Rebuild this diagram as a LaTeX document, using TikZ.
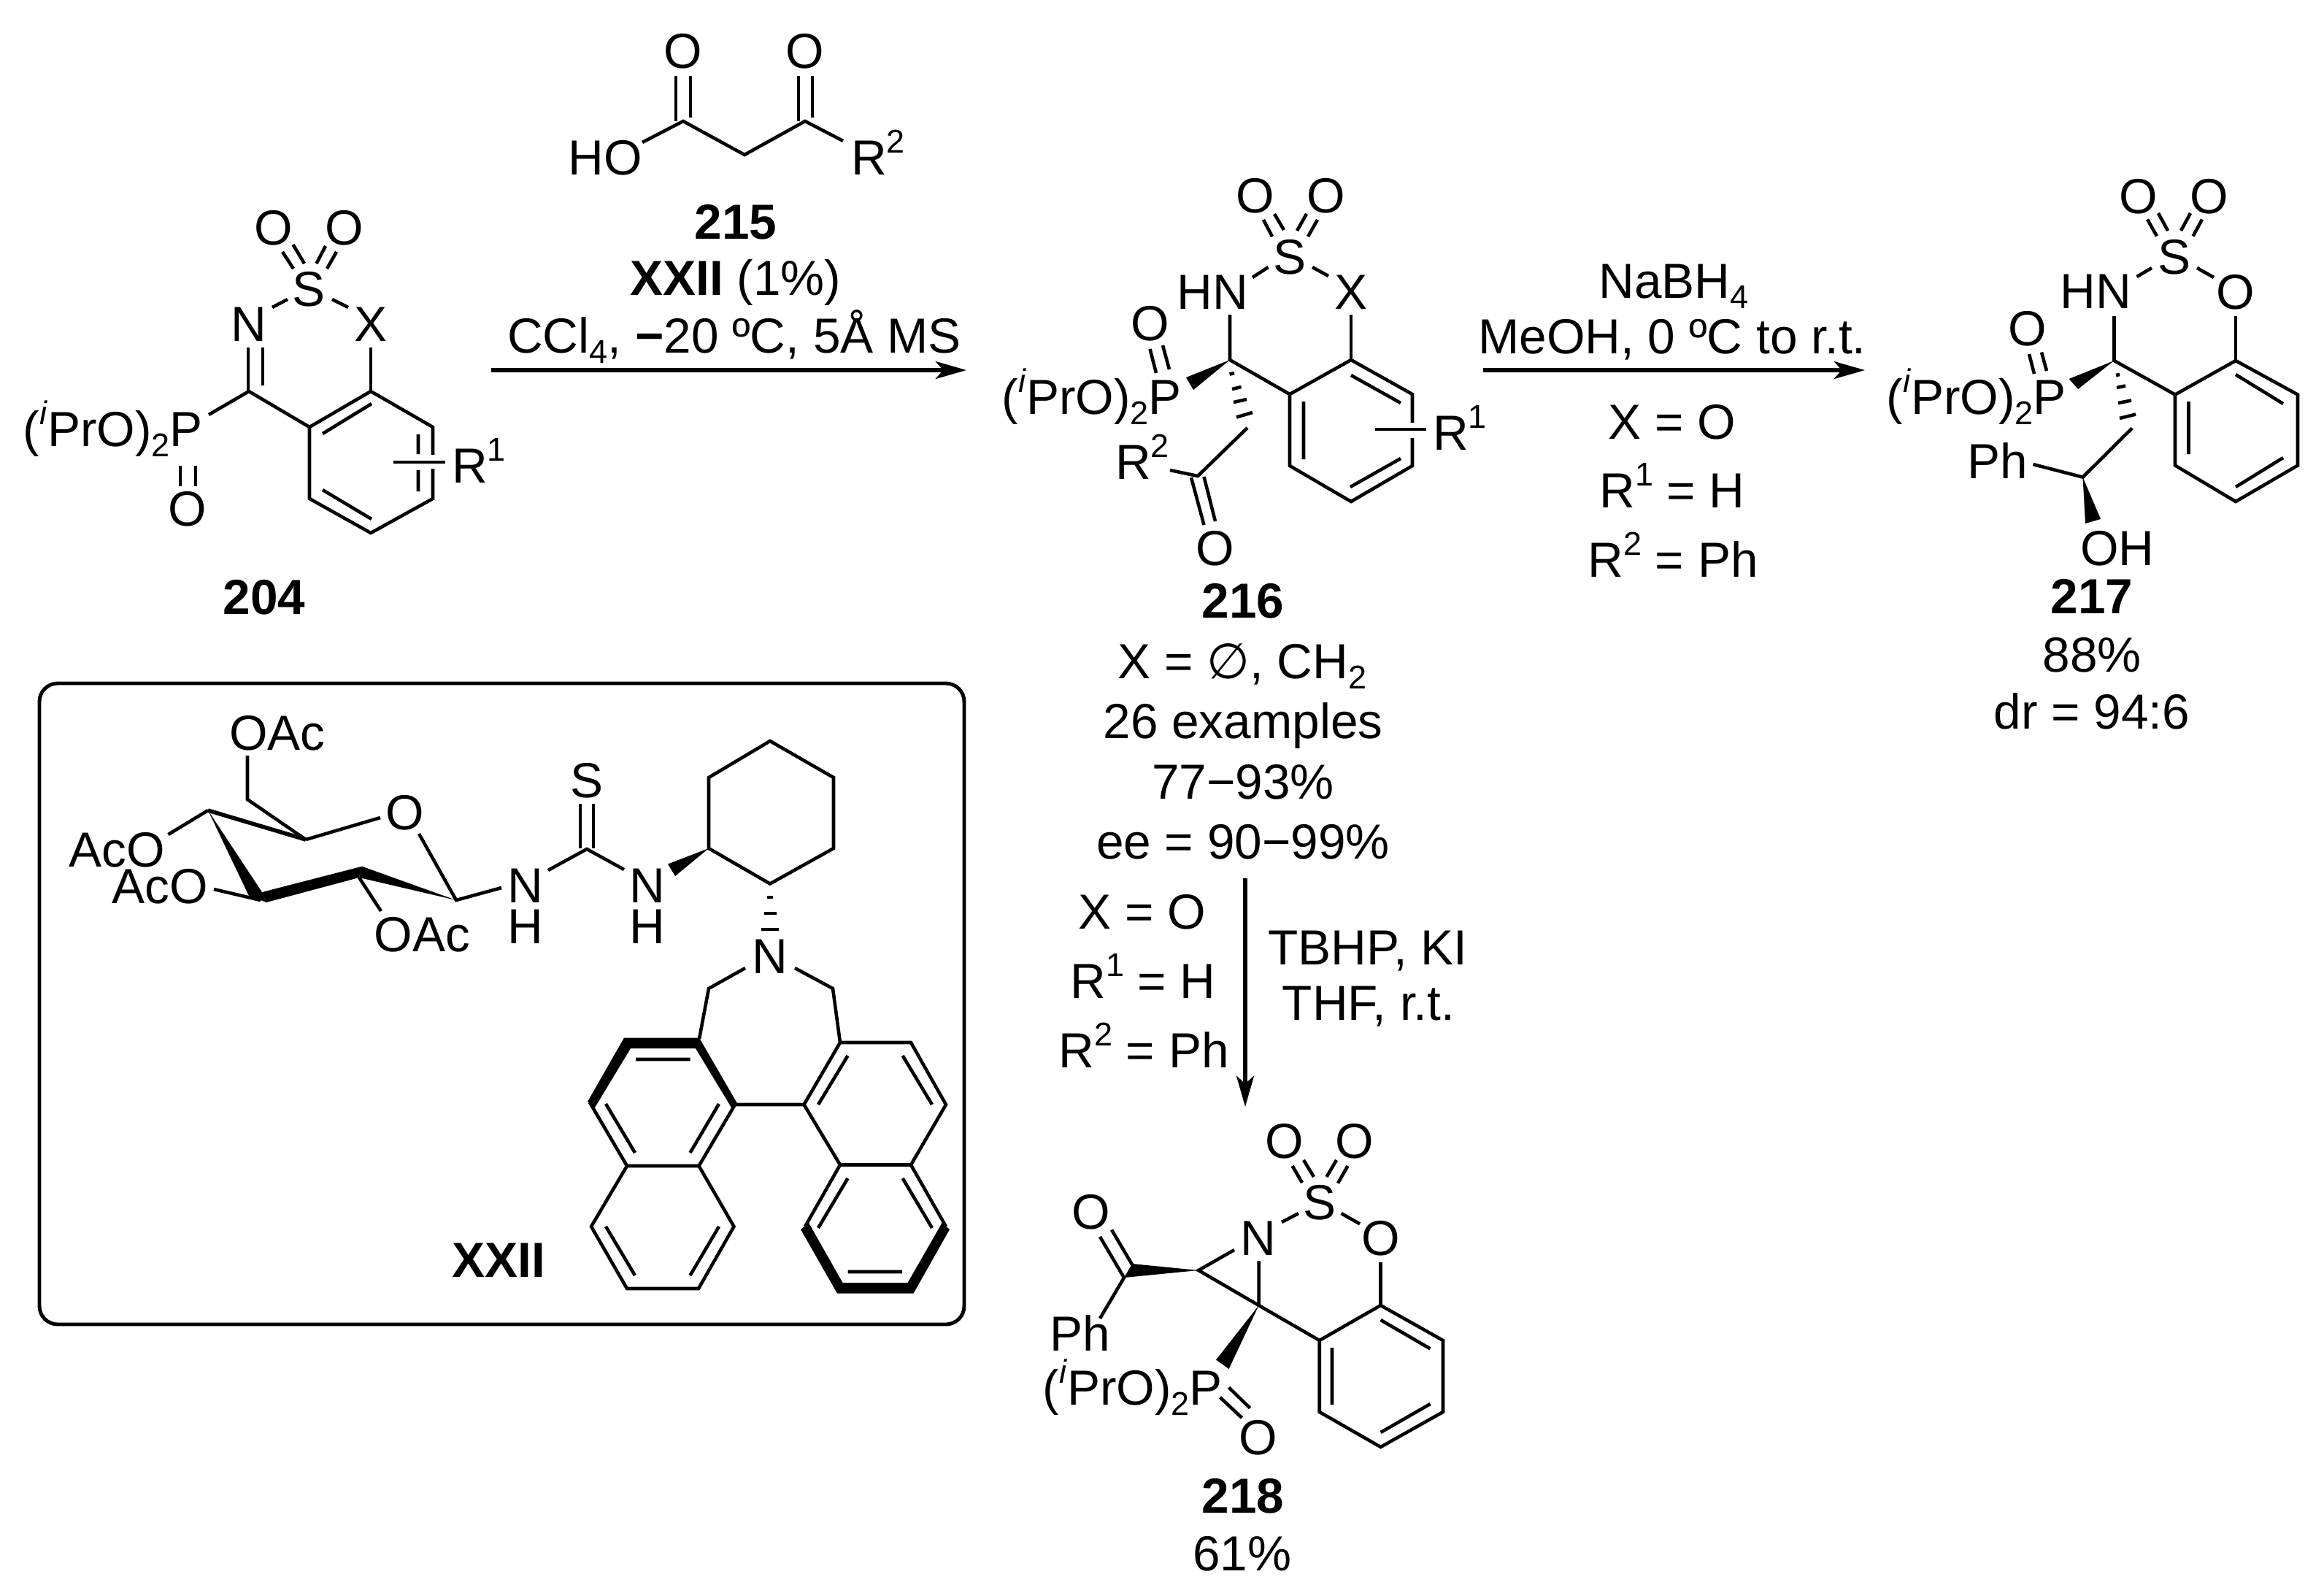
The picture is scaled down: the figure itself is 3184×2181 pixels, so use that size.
\documentclass[tikz,border=0pt]{standalone}
\usepackage{fontspec}
\setmainfont{Liberation Sans}
\newfontfamily\symfont{DejaVu Sans}
\usetikzlibrary{arrows.meta}
\newcommand\chemsup[1]{\raisebox{8.5pt}{\fontsize{12.8pt}{12.8pt}\selectfont #1}}
\newcommand\chemsub[1]{\raisebox{-4pt}{\fontsize{12.8pt}{12.8pt}\selectfont #1}}
\newcommand\iprop{(\chemsup{\textit{i}}PrO)\chemsub{2}P}
\tikzset{
  lbl/.style={inner sep=0pt,outer sep=0pt,font=\fontsize{19.2pt}{22pt}\selectfont},
  blbl/.style={inner sep=0pt,outer sep=0pt,font=\fontsize{19.2pt}{22pt}\selectfont\bfseries},
  bond/.style={line width=1.3pt},
  wedge/.style={fill=black,draw=none},
  rxn/.style={line width=1.5pt,-{Stealth[length=12pt,width=6.8pt,inset=3pt]}},
  panel/.style={line width=1.4pt,rounded corners=2.5mm}
}
\begin{document}
\begin{tikzpicture}[x=0.01cm,y=-0.01cm]
\useasboundingbox (0,0) rectangle (3184,2181);
\fill[white] (0,0) rectangle (3184,2181);

% ---------- reaction arrows
\coordinate (a1s) at (673,507); \coordinate (a1e) at (1324,507);
\coordinate (a2s) at (2032,507); \coordinate (a2e) at (2555,507);
\coordinate (a3s) at (1706,1203); \coordinate (a3e) at (1706,1516);
\draw[rxn] (a1s) -- (a1e);
\draw[rxn] (a2s) -- (a2e);
\draw[rxn] (a3s) -- (a3e);

% ---------- 215
\node[lbl] (a215O1) at (936,70) {O};
\node[lbl] (a215O2) at (1103,70) {O};
\node[lbl,anchor=base] (a215HO) at (829,239) {HO};
\node[lbl,anchor=base west] (a215R) at (1166,239) {R\chemsup{2}};
\draw[bond] (880,195) -- (936,166) -- (1020,212) -- (1103,166) -- (1155,193);
\draw[bond] (926,104) -- (926,166) (946,104) -- (946,161);
\draw[bond] (1094,104) -- (1094,166) (1113,104) -- (1113,161);
\node[blbl,anchor=base] (t215) at (1008,327) {215};
\node[lbl,anchor=base] (tcat) at (1008,404.5) {\textbf{XXII} (1\%)};
\node[lbl,anchor=base] (tcond) at (1006,483) {CCl\chemsub{4}, \textbf{−}20 ºC, 5Å MS};

% ---------- 204
\node[lbl] (a204O1) at (375,312) {O};
\node[lbl] (a204O2) at (472,312) {O};
\node[lbl] (a204S) at (423,396) {S};
\node[lbl] (a204N) at (341,444) {N};
\node[lbl] (a204X) at (508,444) {X};
\node[lbl] (a204O3) at (257,697) {O};
\node[lbl,anchor=base east] (a204P) at (278,611) {\iprop};
\node[lbl,anchor=base west] (a204R) at (619,661) {R\chemsup{1}};
\draw[bond] (401.5,335) -- (417,361) (387,345) -- (402,368);
\draw[bond] (446,337) -- (433.5,361) (461,345) -- (448,368);
\draw[bond] (373,421) -- (394,410) (455,410) -- (477,421);
\draw[bond] (340,476) -- (340,536) (360,476) -- (360,528);
\draw[bond] (286,568) -- (341,536) -- (424,585);
\draw[bond] (508,476) -- (508,536);
\draw[bond] (593,623) -- (593,585) -- (508,536) -- (424,585) -- (424,683) -- (508,730) -- (593,683) -- (593,642);
\draw[bond] (442,594) -- (509,553) (573,595) -- (573,622) (573,644) -- (573,673) (442,671) -- (509,711);
\draw[bond] (539,633) -- (610,633);
\draw[bond] (247,638) -- (247,666) (268,638) -- (268,666);
\node[blbl,anchor=base] (t204) at (362,841) {204};

% ---------- 216
\node[lbl] (a216O1) at (1720,268) {O};
\node[lbl] (a216O2) at (1817,268) {O};
\node[lbl] (a216S) at (1767,352) {S};
\node[lbl,anchor=base] (a216N) at (1661,423) {HN};
\node[lbl,anchor=base] (a216X) at (1851,423) {X};
\node[lbl] (a216O3) at (1575.5,443) {O};
\node[lbl] (a216O4) at (1665,751) {O};
\node[lbl,anchor=base east] (a216P) at (1619,567) {\iprop};
\node[lbl,anchor=base west] (a216R1) at (1963,616) {R\chemsup{1}};
\node[lbl,anchor=base west] (a216R2) at (1528,656) {R\chemsup{2}};
\draw[bond] (1746,293) -- (1759,315) (1731,301) -- (1743,324) (1790,293) -- (1777,316) (1805,301) -- (1792,324);
\draw[bond] (1716,380) -- (1737.5,366) (1798,366) -- (1820,378);
\draw[bond] (1685,431) -- (1685,493) -- (1767,540);
\draw[bond] (1851,431) -- (1851,493);
\draw[bond] (1935,579) -- (1935,540) -- (1851,493) -- (1767,540) -- (1767,638) -- (1851,687) -- (1935,638) -- (1935,600);
\draw[bond] (1851,514) -- (1919,552) (1786,550) -- (1786,629) (1919,628) -- (1850,667);
\draw[bond] (1884,588) -- (1954,588);
\fill[wedge] (1685,493) -- (1625,517) -- (1635,534) -- cycle;
\draw[bond] (1684.6,512.6) -- (1691,511) (1688,533) -- (1700.5,530) (1690,551) -- (1708,547) (1694,571.5) -- (1716,565);
\draw[bond] (1709,586) -- (1641,652) -- (1603,644);
\draw[bond] (1632,654) -- (1649.5,719) (1649.5,653) -- (1665,714);
\draw[bond] (1575.5,478) -- (1584,511) (1593,473) -- (1602,506);
\node[blbl,anchor=base] (t216) at (1703,846) {216};
\node[lbl,anchor=base] (t216a) at (1702,929) {X = {\symfont ∅}, CH\chemsub{2}};
\node[lbl,anchor=base] (t216b) at (1703,1011.5) {26 examples};
\node[lbl,anchor=base] (t216c) at (1703,1094) {77−93\%};
\node[lbl,anchor=base] (t216d) at (1703,1176) {ee = 90−99\%};

% ---------- conditions to 218
\node[lbl,anchor=base] (c1) at (1565,1272) {X = O};
\node[lbl,anchor=base] (c2) at (1566,1367) {R\chemsup{1} = H};
\node[lbl,anchor=base] (c3) at (1567,1462) {R\chemsup{2} = Ph};
\node[lbl,anchor=base] (c4) at (1874,1321) {TBHP, KI};
\node[lbl,anchor=base] (c5) at (1875,1397) {THF, r.t.};

% ---------- conditions to 217
\node[lbl,anchor=base] (d1) at (2293,408) {NaBH\chemsub{4}};
\node[lbl,anchor=base] (d2) at (2291,484) {MeOH, 0 ºC to r.t.};
\node[lbl,anchor=base] (d3) at (2291,601) {X = O};
\node[lbl,anchor=base] (d4) at (2291,695) {R\chemsup{1} = H};
\node[lbl,anchor=base] (d5) at (2292,790) {R\chemsup{2} = Ph};

% ---------- 217
\node[lbl] (a217O1) at (2930,269) {O};
\node[lbl] (a217O2) at (3027,269) {O};
\node[lbl] (a217S) at (2979,352) {S};
\node[lbl,anchor=base] (a217N) at (2871,422) {HN};
\node[lbl] (a217O3) at (3063,400) {O};
\node[lbl] (a217O4) at (2778,450) {O};
\node[lbl,anchor=base east] (a217P) at (2831,567) {\iprop};
\node[lbl,anchor=base] (a217Ph) at (2736.5,655) {Ph};
\node[lbl,anchor=base] (a217OH) at (2901,774) {OH};
\draw[bond] (2957,292) -- (2970,316) (2942,300.5) -- (2955,323.5) (3001,292) -- (2988,316) (3017,300.5) -- (3004.5,323.5);
\draw[bond] (2927.5,379) -- (2948,367) (3010,367) -- (3033,380);
\draw[bond] (2896.5,433) -- (2896.5,494) -- (2980,540.5);
\draw[bond] (3063,433) -- (3063,494);
\draw[bond,line join=miter] (3063,494) -- (3148,540.5) -- (3148,637.5) -- (3063,687) -- (2980,637.5) -- (2980,540.5) -- cycle;
\draw[bond] (3063,513) -- (3128,553) (2998.5,550) -- (2998.5,622) (3128,627) -- (3063,667);
\fill[wedge] (2896.5,494) -- (2834.6,519) -- (2847,533) -- cycle;
\draw[bond] (2780,485) -- (2787,512) (2797,482.5) -- (2804,508);
\draw[bond] (2899,514) -- (2904,513) (2900,531) -- (2912,528.5) (2902,552) -- (2920,548.5) (2904,573) -- (2926,567.5);
\draw[bond] (2921,586.5) -- (2853.5,653.6) -- (2785.5,636);
\fill[wedge] (2853.5,653.6) -- (2857,717) -- (2878,711) -- cycle;
\node[blbl,anchor=base] (t217) at (2866,840) {217};
\node[lbl,anchor=base] (t217a) at (2866,920) {88\%};
\node[lbl,anchor=base] (t217b) at (2866,998) {dr = 94:6};

% ---------- 218
\node[lbl] (a218O1) at (1760,1563.5) {O};
\node[lbl] (a218O2) at (1856,1563.5) {O};
\node[lbl] (a218S) at (1808,1647) {S};
\node[lbl] (a218N) at (1724,1696) {N};
\node[lbl] (a218O3) at (1892,1696) {O};
\node[lbl] (a218O4) at (1495,1660) {O};
\node[lbl] (a218O5) at (1724,1969) {O};
\node[lbl,anchor=base west] (a218Ph) at (1438,1850) {Ph};
\node[lbl,anchor=base east] (a218P) at (1675,1924) {\iprop};
\draw[bond] (1786,1589) -- (1800,1612) (1770.6,1597) -- (1784,1620) (1831,1589) -- (1817.5,1612) (1846.5,1597) -- (1833,1620.6);
\draw[bond] (1756,1674) -- (1779,1662) (1837.6,1662) -- (1863,1676.4);
\draw[bond] (1891.6,1728.7) -- (1891.6,1788);
\draw[bond,line join=miter] (1891.6,1788) -- (1977,1836) -- (1977,1934) -- (1891.6,1982) -- (1807.7,1934) -- (1807.7,1836) -- cycle;
\draw[bond] (1891.6,1808) -- (1959.5,1847.4) (1825,1846) -- (1825,1924) (1959.5,1923) -- (1891.6,1962);
\draw[bond] (1724.6,1727) -- (1724.6,1788) -- (1807.7,1836);
\draw[bond] (1691,1712) -- (1642,1740) -- (1724.6,1788);
\fill[wedge] (1642,1740) -- (1551,1731) -- (1540,1750) -- cycle;
\draw[bond] (1523,1684.5) -- (1551,1732) (1507,1694) -- (1540,1750) -- (1507,1806);
\fill[wedge] (1724.6,1788) -- (1666,1862.6) -- (1683.6,1875) -- cycle;
\draw[bond] (1683.6,1900.5) -- (1712.6,1928.7) (1671.5,1914) -- (1701.4,1942);
\node[blbl,anchor=base] (t218) at (1703,2072) {218};
\node[lbl,anchor=base] (t218a) at (1702,2151) {61\%};

% ---------- catalyst panel
\draw[panel] (54,936) rectangle (1321,1814);
\node[lbl,anchor=base] (k1) at (380,1027) {OAc};
\node[lbl] (k2) at (555,1113) {O};
\node[lbl,anchor=base] (k3) at (160,1187) {AcO};
\node[lbl,anchor=base] (k4) at (219,1237) {AcO};
\node[lbl,anchor=base] (k5) at (578.5,1303) {OAc};
\node[lbl,anchor=base] (k6) at (720,1236) {N};
\node[lbl,anchor=base] (k7) at (720,1292) {H};
\node[lbl] (k8) at (804,1069) {S};
\node[lbl,anchor=base] (k9) at (887,1236) {N};
\node[lbl,anchor=base] (k10) at (887,1292) {H};
\node[lbl,anchor=base] (k11) at (1055,1333) {N};
\node[blbl,anchor=base east] (k12) at (747,1749) {XXII};
% sugar
\draw[bond] (339,1035) -- (339,1095) -- (419,1150);
\draw[line width=1.6pt] (285,1110) -- (419,1150);
\draw[bond] (521,1120) -- (419,1150);
\draw[bond] (574,1142) -- (625,1233) -- (687,1216);
\fill[wedge] (625,1233) -- (496,1186.7) -- (492,1202) -- cycle;
\fill[wedge] (496,1186.7) -- (359,1222) -- (365,1236) -- (492,1202) -- cycle;
\fill[wedge] (285,1110) -- (359,1222) -- (365,1236) -- (341,1227) -- cycle;
\draw[bond] (285,1110) -- (230.5,1143);
\draw[bond] (293,1218) -- (357,1233);
\draw[bond] (492,1202) -- (522,1248);
% thiourea
\draw[bond] (751,1192) -- (804,1163) -- (855,1191);
\draw[bond] (795,1101) -- (795,1162) (813,1101) -- (813,1162);
\fill[wedge] (971,1162) -- (915,1183.5) -- (925,1200) -- cycle;
% cyclohexane
\draw[bond,line join=miter] (971,1162) -- (971,1065) -- (1055,1015) -- (1142,1065) -- (1142,1162) -- (1055,1210.5) -- cycle;
\draw[bond] (1051,1229) -- (1059,1229) (1046.5,1251) -- (1063.5,1251) (1043,1273) -- (1067,1273);
% azepine
\draw[bond] (1021,1326) -- (971,1354) -- (958,1423);
\draw[bond] (1089,1326) -- (1141,1354) -- (1151,1428);
% left naphthalene
\fill[wedge] (1011,1513) -- (958,1421.6) -- (855,1421.6) -- (805,1509) -- (815,1517) -- (864,1436) -- (953,1436) -- (1002,1517) -- cycle;
\draw[bond] (808,1510) -- (859,1597) -- (957.5,1597) -- (1007,1513) -- (1101.5,1513);
\draw[bond] (871,1451) -- (945.5,1451) (830,1512) -- (870,1579) (985,1512) -- (945.5,1579);
\draw[bond] (859,1597) -- (810,1680) -- (859,1765) -- (957,1765) -- (1005.5,1680) -- (957.5,1597);
\draw[bond] (830,1680) -- (870,1747) (945.5,1747) -- (985,1680);
% right naphthalene
\draw[bond] (1101.5,1513) -- (1151,1428) -- (1248,1428) -- (1296,1513) -- (1248,1595.5) -- (1151,1595.5) -- cycle;
\draw[bond] (1121,1513) -- (1161.5,1446) (1236.7,1446) -- (1277,1513);
\draw[bond] (1151,1595.5) -- (1103,1680) (1248,1595.5) -- (1296,1680);
\draw[bond] (1161.5,1614) -- (1121,1682) (1236.7,1614) -- (1277,1682) (1161.5,1742) -- (1236,1742);
\fill[wedge] (1097,1684) -- (1108,1675) -- (1154.5,1757) -- (1243.6,1757) -- (1290.6,1675) -- (1301,1684) -- (1251.5,1771.6) -- (1147,1771.6) -- cycle;
\end{tikzpicture}
\end{document}
